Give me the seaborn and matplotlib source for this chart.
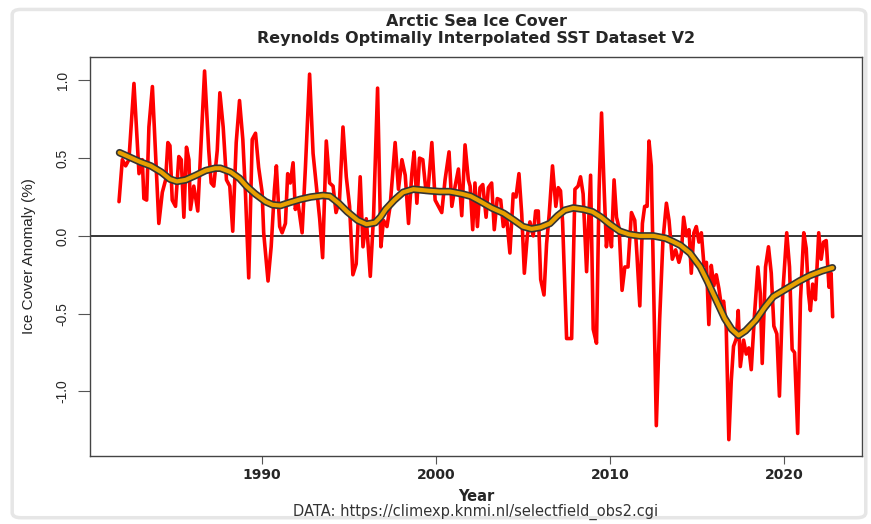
import matplotlib
matplotlib.use('Agg')
import matplotlib.pyplot as plt
import seaborn as sns
import pandas as pd
from matplotlib.patches import FancyBboxPatch

# Monthly-ish anomalies (year, %)
red_year = [1981.77, 1981.96, 1982.15, 1982.34, 1982.63, 1982.92, 1983.11, 1983.20, 1983.36, 1983.49,
            1983.69, 1983.87, 1984.06, 1984.26, 1984.45, 1984.58, 1984.70, 1984.83, 1985.02, 1985.21,
            1985.35, 1985.50, 1985.65, 1985.79, 1985.88, 1986.07, 1986.30, 1986.69, 1986.93, 1987.07,
            1987.22, 1987.42, 1987.57, 1987.76, 1987.95, 1988.14, 1988.31, 1988.51, 1988.70, 1988.89,
            1989.04, 1989.23, 1989.43, 1989.62, 1989.80, 1990.00, 1990.09, 1990.34, 1990.52, 1990.71,
            1990.82, 1991.01, 1991.15, 1991.34, 1991.47, 1991.62, 1991.78, 1991.91, 1992.04, 1992.30,
            1992.49, 1992.73, 1992.93, 1993.12, 1993.31, 1993.48, 1993.69, 1993.88, 1994.08, 1994.25,
            1994.45, 1994.65, 1994.84, 1995.03, 1995.22, 1995.41, 1995.64, 1995.80, 1995.99, 1996.22,
            1996.41, 1996.64, 1996.83, 1996.98, 1997.18, 1997.36, 1997.65, 1997.84, 1998.04, 1998.23,
            1998.42, 1998.61, 1998.74, 1998.90, 1999.05, 1999.24, 1999.43, 1999.56, 1999.76, 1999.95,
            2000.14, 2000.33, 2000.52, 2000.75, 2000.91, 2001.10, 2001.29, 2001.48, 2001.67, 2001.86,
            2001.96, 2002.11, 2002.24, 2002.38, 2002.53, 2002.69, 2002.88, 2003.01, 2003.20, 2003.35,
            2003.52, 2003.72, 2003.87, 2004.06, 2004.25, 2004.44, 2004.60, 2004.77, 2004.93, 2005.08,
            2005.25, 2005.40, 2005.59, 2005.73, 2005.88, 2006.02, 2006.21, 2006.36, 2006.51, 2006.70,
            2006.89, 2007.03, 2007.16, 2007.28, 2007.51, 2007.80, 2007.99, 2008.17, 2008.31, 2008.46,
            2008.66, 2008.89, 2009.04, 2009.23, 2009.38, 2009.52, 2009.67, 2009.80, 2009.95, 2010.09,
            2010.24, 2010.38, 2010.53, 2010.70, 2010.86, 2011.04, 2011.24, 2011.43, 2011.56, 2011.72,
            2011.87, 2012.00, 2012.14, 2012.25, 2012.38, 2012.67, 2012.86, 2013.05, 2013.25, 2013.40,
            2013.59, 2013.78, 2013.97, 2014.11, 2014.24, 2014.40, 2014.55, 2014.68, 2014.83, 2014.97,
            2015.12, 2015.26, 2015.41, 2015.55, 2015.69, 2015.83, 2015.98, 2016.12, 2016.27, 2016.41,
            2016.54, 2016.69, 2016.84, 2016.98, 2017.11, 2017.27, 2017.38, 2017.50, 2017.69, 2017.84,
            2017.99, 2018.13, 2018.32, 2018.51, 2018.65, 2018.76, 2018.95, 2019.12, 2019.28, 2019.43,
            2019.60, 2019.75, 2019.94, 2020.17, 2020.33, 2020.48, 2020.62, 2020.80, 2020.96, 2021.15,
            2021.29, 2021.42, 2021.53, 2021.66, 2021.82, 2022.01, 2022.15, 2022.29, 2022.44, 2022.60,
            2022.72, 2022.81]
red_val = [0.22, 0.49, 0.45, 0.49, 0.98, 0.40, 0.49, 0.24, 0.23, 0.70,
           0.96, 0.53, 0.08, 0.28, 0.36, 0.60, 0.58, 0.23, 0.19, 0.51,
           0.49, 0.12, 0.57, 0.49, 0.17, 0.32, 0.16, 1.06, 0.55, 0.34,
           0.32, 0.55, 0.92, 0.70, 0.36, 0.32, 0.03, 0.60, 0.87, 0.62,
           0.28, -0.27, 0.62, 0.66, 0.44, 0.28, 0.02, -0.29, -0.07, 0.30,
           0.45, 0.06, 0.02, 0.08, 0.40, 0.34, 0.47, 0.17, 0.23, 0.02,
           0.44, 1.04, 0.53, 0.32, 0.11, -0.14, 0.61, 0.34, 0.32, 0.15,
           0.23, 0.70, 0.38, 0.19, -0.25, -0.18, 0.38, -0.07, 0.11, -0.26,
           0.13, 0.95, -0.07, 0.10, 0.06, 0.19, 0.60, 0.30, 0.49, 0.39,
           0.08, 0.40, 0.54, 0.21, 0.50, 0.49, 0.28, 0.32, 0.60, 0.23,
           0.19, 0.15, 0.36, 0.54, 0.19, 0.32, 0.43, 0.13, 0.585, 0.36,
           0.32, 0.04, 0.34, 0.06, 0.31, 0.33, 0.12, 0.31, 0.34, 0.04,
           0.24, 0.23, 0.06, 0.12, -0.11, 0.27, 0.25, 0.40, 0.14, -0.24,
           0.0, 0.09, 0.0, 0.16, 0.16, -0.28, -0.38, -0.05, 0.14, 0.45,
           0.19, 0.31, 0.29, 0.09, -0.66, -0.66, 0.30, 0.32, 0.38, 0.27,
           -0.23, 0.39, -0.60, -0.69, 0.30, 0.79, 0.30, -0.07, 0.08, -0.07,
           0.36, 0.12, 0.05, -0.35, -0.20, -0.20, 0.15, 0.10, -0.13, -0.45,
           0.08, 0.19, 0.19, 0.61, 0.45, -1.22, -0.54, -0.03, 0.21, 0.10,
           -0.15, -0.09, -0.17, -0.11, 0.12, 0.0, 0.04, -0.24, 0.02, 0.06,
           -0.04, 0.02, -0.19, -0.17, -0.57, -0.19, -0.32, -0.25, -0.34, -0.45,
           -0.42, -0.59, -1.31, -0.93, -0.71, -0.66, -0.48, -0.84, -0.67, -0.76,
           -0.72, -0.86, -0.50, -0.20, -0.37, -0.82, -0.20, -0.07, -0.24, -0.58,
           -0.63, -1.03, -0.37, 0.02, -0.20, -0.73, -0.75, -1.27, -0.41, 0.02,
           -0.08, -0.37, -0.48, -0.31, -0.41, 0.02, -0.15, -0.04, -0.03, -0.33,
           -0.24, -0.52]

# Smoothed trend
smooth_year = [1981.8, 1982.5, 1983.0, 1983.6, 1984.2, 1984.7, 1985.1, 1985.6, 1986.2, 1986.75,
               1987.3, 1987.6, 1988.2, 1988.7, 1989.1, 1989.6, 1990.2, 1990.6, 1991.05, 1991.6,
               1992.2, 1992.8, 1993.5, 1993.9, 1994.4, 1994.9, 1995.5, 1996.0, 1996.5, 1996.8,
               1997.1, 1997.6, 1998.1, 1998.7, 1999.6, 2000.2, 2000.8, 2001.5, 2002.0, 2002.5,
               2003.2, 2003.9, 2004.5, 2005.0, 2005.5, 2006.0, 2006.55, 2007.0, 2007.4, 2007.9,
               2008.5, 2009.0, 2009.5, 2010.0, 2010.57, 2011.1, 2011.7, 2012.5, 2013.2, 2013.6,
               2014.05, 2014.6, 2015.2, 2015.6, 2016.1, 2016.6, 2017.0, 2017.4, 2017.8, 2018.4,
               2018.9, 2019.4, 2020.0, 2020.9, 2021.5, 2022.2, 2022.8]
smooth_val = [0.535, 0.50, 0.475, 0.45, 0.41, 0.365, 0.35, 0.36, 0.39, 0.42,
              0.435, 0.435, 0.41, 0.37, 0.32, 0.27, 0.22, 0.20, 0.195, 0.215,
              0.235, 0.25, 0.26, 0.255, 0.21, 0.155, 0.10, 0.075, 0.085, 0.12,
              0.17, 0.23, 0.28, 0.30, 0.29, 0.285, 0.285, 0.27, 0.255, 0.225,
              0.18, 0.145, 0.10, 0.06, 0.045, 0.055, 0.08, 0.13, 0.165, 0.18,
              0.17, 0.155, 0.12, 0.075, 0.03, 0.01, 0.0, 0.0, -0.015, -0.035,
              -0.06, -0.11, -0.20, -0.29, -0.41, -0.53, -0.60, -0.64, -0.61, -0.54,
              -0.46, -0.39, -0.35, -0.29, -0.255, -0.225, -0.205]

x_ticks = [1990, 2000, 2010, 2020]
y_ticks = [-1.0, -0.5, 0.0, 0.5, 1.0]

sns.set_style('white')
plt.rcParams['font.family'] = ['DejaVu Sans']

red_df = pd.DataFrame({'year': red_year, 'anomaly': red_val})
smooth_df = pd.DataFrame({'year': smooth_year, 'anomaly': smooth_val})

fig = plt.figure(figsize=(8.71, 5.24), dpi=100)
# light card frame around the picture
fig.patches.append(FancyBboxPatch((0.014, 0.012), 0.98, 0.97, boxstyle='round,pad=0,rounding_size=0.01',
                                  transform=fig.transFigure, facecolor='none',
                                  edgecolor='#e6e6e6', linewidth=2.5))
ax = fig.add_axes([0.1033, 0.1298, 0.8864, 0.7614])

ax.axhline(0, color='black', linewidth=1.1, zorder=1)
sns.lineplot(data=red_df, x='year', y='anomaly', ax=ax, color='red', linewidth=2.6,
             estimator=None, sort=False, zorder=2)
sns.lineplot(data=smooth_df, x='year', y='anomaly', ax=ax, color='#333333', linewidth=5.4,
             estimator=None, zorder=3)
sns.lineplot(data=smooth_df, x='year', y='anomaly', ax=ax, color='#E8A000', linewidth=3.0,
             estimator=None, zorder=4)

ax.set_xlim(1980.1, 2024.5)
ax.set_ylim(-1.415, 1.15)
ax.set_xticks(x_ticks)
ax.set_xticklabels([str(t) for t in x_ticks], fontweight='bold', fontsize=10)
ax.set_yticks(y_ticks)
ax.set_yticklabels(['%.1f' % t for t in y_ticks], rotation=90, va='center', fontsize=10,
                   family='Liberation Sans')
ax.tick_params(axis='x', direction='out', length=5.5, width=0.8, color='#555555', pad=3,
               bottom=True)
ax.tick_params(axis='y', direction='out', length=8.5, width=0.8, color='#555555', pad=6,
               left=True)
for s in ax.spines.values():
    s.set_color('#444444')
    s.set_linewidth(1.0)

ax.set_xlabel('Year', fontweight='bold', fontsize=10.5, labelpad=5)
ax.set_ylabel('Ice Cover Anomaly (%)', fontsize=11, labelpad=14, family='Liberation Sans')
fig.text(0.5465, 1 - 22 / 524, 'Arctic Sea Ice Cover', ha='center', va='center',
         fontweight='bold', fontsize=11.5)
fig.text(0.5465, 1 - 38.5 / 524, 'Reynolds Optimally Interpolated SST Dataset V2', ha='center',
         va='center', fontweight='bold', fontsize=11.5)
fig.text(0.5465, 1 - 512 / 524, 'DATA: https://climexp.knmi.nl/selectfield_obs2.cgi', ha='center',
         va='center', fontsize=10.5, color='#333333')

fig.savefig('out.png', dpi=100)
